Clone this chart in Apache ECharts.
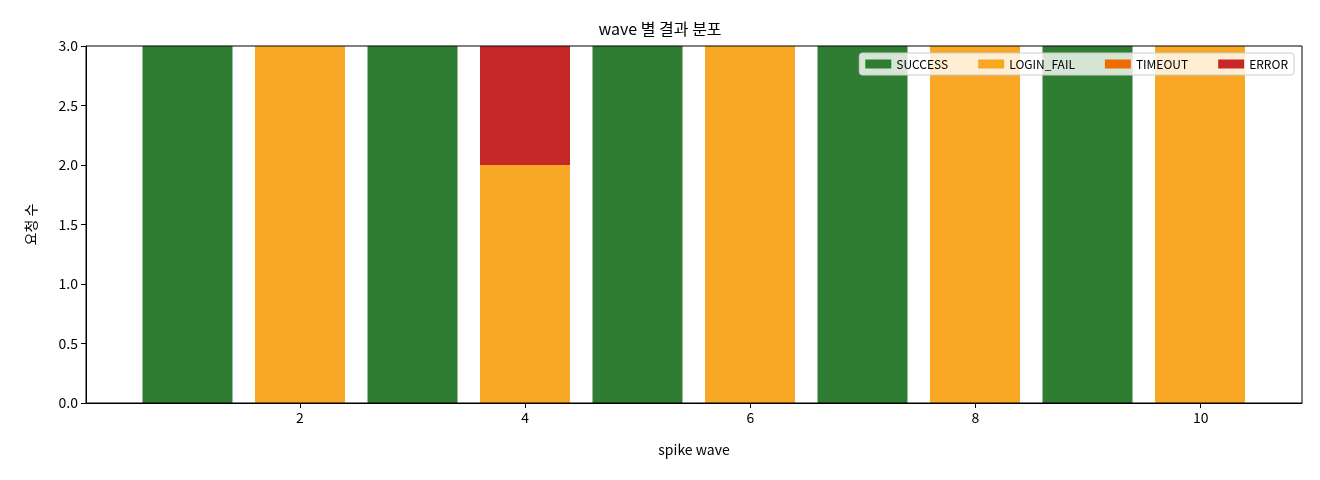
<!DOCTYPE html>
<html><head><meta charset="utf-8">
<script src="https://cdn.jsdelivr.net/npm/echarts@6/dist/echarts.min.js"></script>
<style>html,body{margin:0;padding:0;background:#fff}#c{width:1320px;height:480px}</style>
</head><body><div id="c"></div>
<script>
const waves=[1,2,3,4,5,6,7,8,9,10];
const success=[3,0,3,0,3,0,3,0,3,0];
const loginFail=[0,3,0,2,0,3,0,3,0,3];
const timeout=[0,0,0,0,0,0,0,0,0,0];
const error=[0,0,0,1,0,0,0,0,0,0];
const names=['SUCCESS','LOGIN_FAIL','TIMEOUT','ERROR'];
const colors=['#2e7d32','#f9a825','#ef6c00','#c62828'];
const vals=[success,loginFail,timeout,error];
const font='"Noto Sans CJK KR","DejaVu Sans",sans-serif';
const chart=echarts.init(document.getElementById('c'));
chart.setOption({
  animation:false,
  textStyle:{fontFamily:font},
  title:{text:'wave 별 결과 분포',left:'center',top:16,textStyle:{fontSize:16,fontWeight:'normal',color:'#000',fontFamily:font}},
  grid:[{left:86,right:18,top:46,bottom:77},{left:131.25,right:63.75,top:46,bottom:77}],
  legend:{right:26,top:53,orient:'horizontal',icon:'rect',itemWidth:26,itemHeight:9,itemGap:30,
    backgroundColor:'rgba(255,255,255,0.8)',borderColor:'#ccc',borderWidth:1,borderRadius:3,padding:[5,6],
    textStyle:{fontSize:12,color:'#000'},data:names},
  xAxis:[{type:'value',gridIndex:0,min:0.1,max:10.9,splitNumber:5,
    name:'spike wave',nameLocation:'middle',nameGap:40,nameTextStyle:{fontSize:14,color:'#000'},
    axisLine:{show:true,onZero:false,lineStyle:{color:'#000'}},axisTick:{show:true,lineStyle:{color:'#000'}},
    splitLine:{show:false},
    axisLabel:{fontSize:14,color:'#000',showMinLabel:false,showMaxLabel:false,formatter:v=>(Number.isInteger(v)&&v%2===0&&v>0)?String(v):''}},
    {type:'category',gridIndex:1,data:waves.map(String),show:false}],
  yAxis:[{type:'value',gridIndex:0,min:0,max:3,interval:0.5,
    name:'요청 수',nameLocation:'middle',nameGap:48,nameRotate:90,nameTextStyle:{fontSize:14,color:'#000'},
    axisLine:{show:true,lineStyle:{color:'#000'}},axisTick:{show:true,lineStyle:{color:'#000'}},
    splitLine:{show:false},axisLabel:{fontSize:14,color:'#000',formatter:v=>v.toFixed(1)}},
    {type:'value',gridIndex:1,min:0,max:3,show:false}],
  series:names.map((n,i)=>({name:n,type:'bar',stack:'all',barWidth:90,xAxisIndex:1,yAxisIndex:1,
    itemStyle:{color:colors[i]},data:vals[i]})),
  graphic:[{type:'rect',shape:{x:86,y:46,width:1216,height:357},style:{fill:'none',stroke:'#000',lineWidth:1},z:100}]
});
</script></body></html>
